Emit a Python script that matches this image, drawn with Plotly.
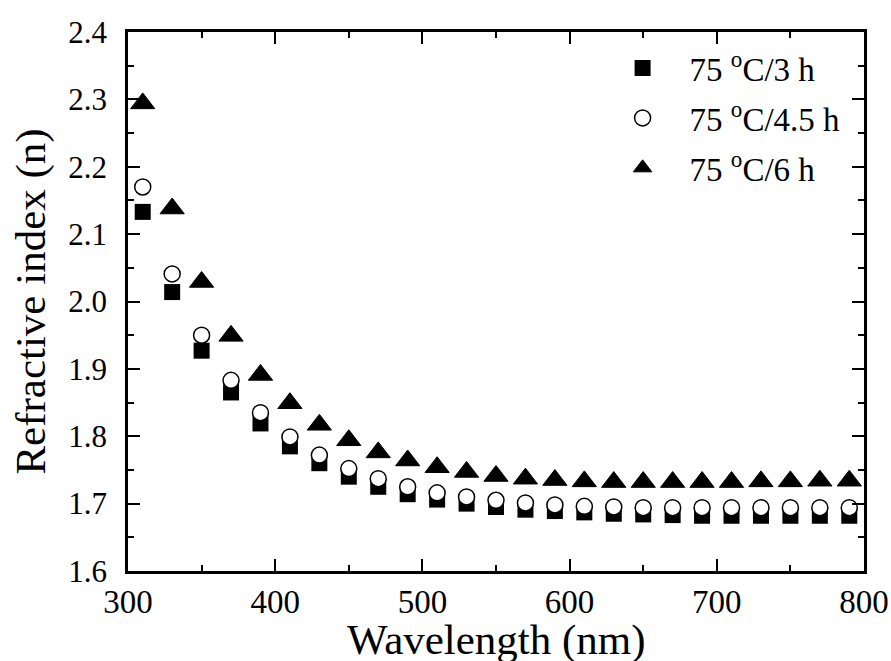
import plotly.graph_objects as go

wavelength = [310, 330, 350, 370, 390, 410, 430, 450, 470, 490, 510, 530, 550,
              570, 590, 610, 630, 650, 670, 690, 710, 730, 750, 770, 790]
n_3h = [2.133, 2.014, 1.927, 1.865, 1.819, 1.785, 1.760, 1.740, 1.725, 1.714,
        1.706, 1.700, 1.695, 1.691, 1.689, 1.687, 1.685, 1.684, 1.683, 1.682,
        1.682, 1.682, 1.682, 1.682, 1.682]
n_45h = [2.170, 2.041, 1.950, 1.883, 1.835, 1.799, 1.772, 1.752, 1.737, 1.725,
         1.716, 1.710, 1.705, 1.701, 1.698, 1.696, 1.695, 1.694, 1.694, 1.694,
         1.694, 1.694, 1.694, 1.694, 1.694]
n_6h = [2.294, 2.138, 2.029, 1.949, 1.891, 1.849, 1.817, 1.794, 1.776, 1.764,
        1.754, 1.747, 1.741, 1.737, 1.735, 1.733, 1.732, 1.732, 1.732, 1.732,
        1.732, 1.733, 1.733, 1.734, 1.734]
labels = ["75 <sup>o</sup>C/3 h", "75 <sup>o</sup>C/4.5 h", "75 <sup>o</sup>C/6 h"]
x_title = "Wavelength (nm)"
y_title = "Refractive index (n)"

FONT = "Liberation Serif, Times New Roman, serif"

fig = go.Figure()
fig.add_trace(go.Scatter(x=wavelength, y=n_3h, mode="markers", name=labels[0],
                         legendgroup="a",
                         marker=dict(symbol="square", size=16, color="black",
                                     line=dict(width=0))))
fig.add_trace(go.Scatter(x=wavelength, y=n_45h, mode="markers", name=labels[1],
                         legendgroup="b",
                         marker=dict(symbol="circle", size=16, color="white",
                                     line=dict(width=1.5, color="black"))))
fig.add_trace(go.Scatter(x=wavelength, y=n_6h, mode="markers", name=labels[2],
                         legendgroup="c",
                         marker=dict(symbol="triangle-up", size=21, color="black",
                                     line=dict(width=1, color="black"))))

axis_common = dict(
    showline=True, linecolor="black", linewidth=2.5, mirror="ticks",
    ticks="inside", ticklen=12, tickwidth=2, tickcolor="black",
    showgrid=False, zeroline=False, automargin=False,
)

fig.update_xaxes(
    range=[300, 800], dtick=100, tick0=300,
    minor=dict(ticks="inside", ticklen=6, tickwidth=2, tickcolor="black", dtick=50),
    tickfont=dict(family=FONT, size=33, color="black"),
    ticklabelstandoff=0,
    **axis_common,
)
fig.update_yaxes(
    range=[1.6, 2.4], dtick=0.1, tick0=1.6, tickformat=".1f",
    minor=dict(ticks="inside", ticklen=6, tickwidth=2, tickcolor="black", dtick=0.05),
    tickfont=dict(family=FONT, size=31, color="black"),
    title=dict(text=y_title, font=dict(family=FONT, size=43, color="black"),
               standoff=10),
    ticklabelstandoff=12,
    **axis_common,
)

fig.add_annotation(text=x_title, xref="paper", yref="paper", x=0.5, y=-0.08,
                   xanchor="center", yanchor="top", showarrow=False,
                   font=dict(family=FONT, size=43, color="black"))

fig.update_layout(
    width=891, height=661,
    margin=dict(l=128, r=27, t=32, b=90),
    paper_bgcolor="white", plot_bgcolor="white",
    showlegend=True,
    legend=dict(x=0.975, y=0.985, xanchor="right", yanchor="top",
                bgcolor="rgba(0,0,0,0)", borderwidth=0,
                font=dict(family=FONT, size=33, color="black"),
                tracegroupgap=4, itemwidth=84),
)

fig.write_html("out.html", config={"displayModeBar": False},
               post_script="document.body.style.margin='0';document.body.style.overflow='hidden';")
